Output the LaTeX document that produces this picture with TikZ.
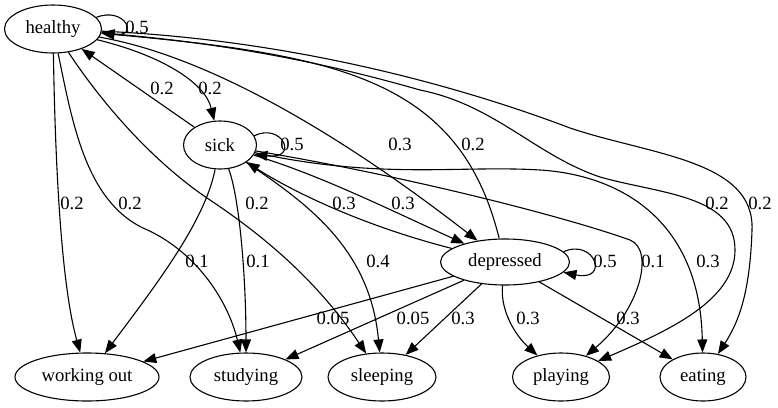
\documentclass[tikz,border=0pt]{standalone}
\usepackage{fontspec}
\setmainfont{Liberation Serif}
\usetikzlibrary{shapes.geometric,arrows.meta}
\tikzset{
  state/.style={draw,ellipse,line width=1.1pt,inner sep=0pt,minimum height=48pt},
  edge/.style={draw,line width=1.1pt,-{Triangle[length=13pt,width=10pt]}},
  prob/.style={inner sep=0pt}
}

\begin{document}
\begin{tikzpicture}[x=1pt,y=-1pt,font=\rmfamily\fontsize{18.67}{22}\selectfont]
  \useasboundingbox (0,0) rectangle (778,407);
  % states
  \node[state,minimum width=97pt] (healthy) at (53,29) {healthy};
  \node[state,minimum width=73pt] (sick) at (220,145) {sick};
  \node[state,minimum width=129pt,minimum height=46pt] (depressed) at (505,262) {depressed};
  \node[state,minimum width=144pt] (working) at (87,377) {working out};
  \node[state,minimum width=112pt] (studying) at (246,377) {studying};
  \node[state,minimum width=108pt] (sleeping) at (382,377) {sleeping};
  \node[state,minimum width=97pt] (playing) at (561,377) {playing};
  \node[state,minimum width=86pt] (eating) at (703,377) {eating};
  % from healthy
  \draw[edge] (healthy.15) .. controls (125,6) and (140,38) .. (healthy.-4);
  \node[prob] (hh) at (137,27) {0.5};
  \draw[edge] (healthy) .. controls (160,55) and (205,82) .. (sick);
  \node[prob] (hs) at (210,88) {0.2};
  \draw[edge] (healthy) .. controls (55,150) and (60,280) .. (working);
  \node[prob] (hw) at (72,203) {0.2};
  \draw[edge] (healthy) .. controls (72,120) and (85,200) .. (143,228) .. controls (195,250) and (228,300) .. (studying);
  \node[prob] (hst) at (130,203) {0.2};
  \draw[edge] (healthy) .. controls (100,100) and (150,160) .. (210,200) .. controls (270,240) and (320,285) .. (sleeping);
  \node[prob] (hsl) at (257,203) {0.2};
  \draw[edge] (healthy) .. controls (230,60) and (380,165) .. (depressed);
  \node[prob] (hd) at (400,144) {0.3};
  \draw[edge] (healthy) .. controls (250,45) and (350,70) .. (420,90) .. controls (495,105) and (535,155) .. (600,177) .. controls (660,194) and (735,195) .. (735,250) .. controls (735,300) and (670,330) .. (playing);
  \node[prob] (hp) at (717,203) {0.2};
  \draw[edge] (healthy) .. controls (300,40) and (470,90) .. (570,128) .. controls (650,155) and (755,160) .. (752,230) .. controls (750,290) and (740,320) .. (eating);
  \node[prob] (he) at (760,203) {0.2};
  % from sick
  \draw[edge] (sick) -- (healthy);
  \node[prob] (sh) at (162,88) {0.2};
  \draw[edge] (sick.15) .. controls (282,122) and (300,160) .. (sick.-15);
  \node[prob] (ss) at (292,144) {0.5};
  \draw[edge] (sick) .. controls (205,220) and (160,280) .. (working);
  \node[prob] (sw) at (197,261) {0.1};
  \draw[edge] (sick) .. controls (240,200) and (246,280) .. (studying);
  \node[prob] (sst) at (258,261) {0.1};
  \draw[edge] (sick) .. controls (310,205) and (370,250) .. (sleeping);
  \node[prob] (ssl) at (378,261) {0.4};
  \draw[edge] (sick) .. controls (320,175) and (390,210) .. (depressed);
  \node[prob] (sd) at (403,203) {0.3};
  \draw[edge] (sick) .. controls (400,175) and (560,215) .. (630,240) .. controls (655,250) and (640,310) .. (playing);
  \node[prob] (sp) at (653,261) {0.1};
  \draw[edge] (sick) .. controls (380,180) and (460,165) .. (540,170) .. controls (620,175) and (700,220) .. (eating);
  \node[prob] (se) at (708,261) {0.3};
  % from depressed
  \draw[edge] (depressed) .. controls (460,80) and (340,55) .. (healthy);
  \node[prob] (dh) at (473,144) {0.2};
  \draw[edge] (depressed) .. controls (360,225) and (290,190) .. (sick);
  \node[prob] (ds) at (344,203) {0.3};
  \draw[edge] (depressed.10) .. controls (595,238) and (610,282) .. (depressed.-10);
  \node[prob] (dd) at (605,261) {0.5};
  \draw[edge] (depressed) -- (working);
  \node[prob] (dw) at (333,318) {0.05};
  \draw[edge] (depressed) -- (studying);
  \node[prob] (dst) at (413,318) {0.05};
  \draw[edge] (depressed) -- (sleeping);
  \node[prob] (dsl) at (463,318) {0.3};
  \draw[edge] (depressed) .. controls (500,310) and (515,335) .. (playing);
  \node[prob] (dp) at (528,318) {0.3};
  \draw[edge] (depressed) -- (eating);
  \node[prob] (de) at (628,318) {0.3};
\end{tikzpicture}
\end{document}
